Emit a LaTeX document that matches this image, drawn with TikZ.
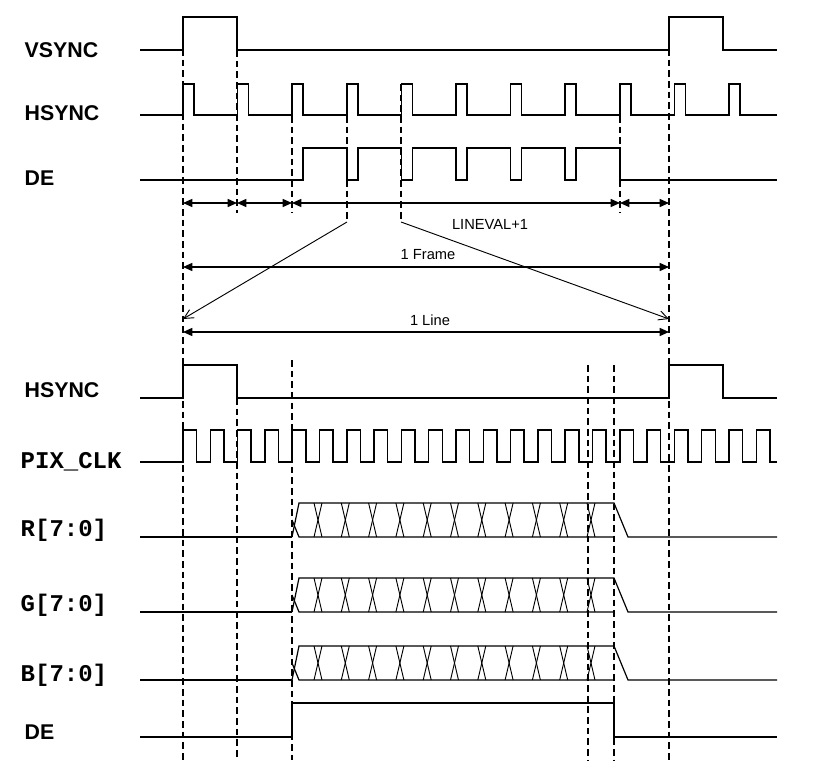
\documentclass[tikz,border=0pt]{standalone}
\usepackage{fontspec}
\setmainfont{Liberation Sans}
\setmonofont{Liberation Mono}
\usetikzlibrary{arrows.meta}
\begin{document}
\begin{tikzpicture}[x=0.75pt,y=-0.75pt,
  sig/.style={line width=1.1pt,line join=miter},
  dsh/.style={line width=0.9pt,dash pattern=on 5pt off 3pt},
  dim/.style={line width=1.1pt,{Triangle[length=7pt,width=6pt]}-{Triangle[length=7pt,width=6pt]}},
  zoomln/.style={line width=0.7pt,-{Straight Barb[length=7pt,width=7pt]}},
  lab/.style={anchor=west,font=\fontsize{16}{16}\selectfont\bfseries},
  mlab/.style={anchor=west,font=\fontsize{18}{18}\selectfont\ttfamily\bfseries},
  small/.style={font=\fontsize{11}{11}\selectfont}]
\useasboundingbox (0,0) rectangle (815,784);
\fill[white] (0,0) rectangle (815,784);
% labels
\node[lab] (l1) at (20,50) {VSYNC};
\node[lab] (l2) at (20,113) {HSYNC};
\node[lab] (l3) at (20,178) {DE};
\node[lab] (l4) at (20,390) {HSYNC};
\node[mlab] (l5) at (16,462) {PIX\_CLK};
\node[mlab] (l6) at (16,530) {R[7:0]};
\node[mlab] (l7) at (16,605) {G[7:0]};
\node[mlab] (l8) at (16,675) {B[7:0]};
\node[lab] (l9) at (20,732) {DE};
% VSYNC
\draw[sig] (140,50) -- (183,50) -- (183,17) -- (237,17) -- (237,50) -- (669,50) -- (669,17) -- (723,17) -- (723,50) -- (777,50);
% HSYNC top
\draw[sig] (140,115)
  \foreach \k in {0,...,10}{ -- ({183+54.6*\k},115) -- ({183+54.6*\k},84) -- ({194+54.6*\k},84) -- ({194+54.6*\k},115)} -- (777,115);
% DE top
\draw[sig] (140,180) -- (303,180) -- (303,148)
  \foreach \k in {3,...,7}{ -- ({183+54.6*\k},148) -- ({183+54.6*\k},180) -- ({194+54.6*\k},180) -- ({194+54.6*\k},148)}
  -- (620,148) -- (620,180) -- (777,180);
% dashed lines top
\draw[dsh] (183,17) -- (183,760);
\draw[dsh] (669,17) -- (669,760);
\draw[dsh] (237,50) -- (237,213);
\draw[dsh] (292,84) -- (292,213);
\draw[dsh] (347,84) -- (347,222);
\draw[dsh] (401,84) -- (401,222);
\draw[dsh] (620,84) -- (620,213);
\coordinate (a0) at (183,203); \coordinate (a1) at (237,203); \coordinate (a2) at (292,203);
\coordinate (a3) at (620,203); \coordinate (a4) at (669,203);
\draw[dim] (a0) -- (a1); \draw[dim] (a1) -- (a2); \draw[dim] (a2) -- (a3); \draw[dim] (a3) -- (a4);
\node[small] (lv) at (490,224) {LINEVAL+1};
\coordinate (f0) at (183,267); \coordinate (f1) at (669,267);
\draw[dim] (f0) -- (f1);
\node[small] (fr) at (428,255) {1 Frame};
\coordinate (z0) at (347,222); \coordinate (z1) at (401,222);
\coordinate (t0) at (183,319); \coordinate (t1) at (669,319);
\draw[zoomln] (z0) -- (t0);
\draw[zoomln] (z1) -- (t1);
\coordinate (g0) at (183,332); \coordinate (g1) at (669,332);
\draw[dim] (g0) -- (g1);
\node[small] (ln) at (430,320) {1 Line};
% HSYNC bottom
\draw[sig] (140,398) -- (183,398) -- (183,365) -- (237,365) -- (237,398) -- (669,398) -- (669,365) -- (723,365) -- (723,398) -- (777,398);
% PIX_CLK
\draw[sig] (140,462) \foreach \k in {0,...,21}{ -- ({183+27.3*\k},462) -- ({183+27.3*\k},430) -- ({196.6+27.3*\k},430) -- ({196.6+27.3*\k},462)} -- (777,462);
% dashed bottom
\draw[dsh] (237,398) -- (237,760);
\draw[dsh] (292,360) -- (292,760);
\draw[dsh] (588,365) -- (588,760);
\draw[dsh] (614,365) -- (614,760);
% buses
\foreach \yl/\yh in {537/503, 612/578, 680/646}{
  \draw[sig] (140,\yl) -- (292,\yl);
  \draw[line width=0.9pt] (292,\yl) -- (299,\yh) -- (614,\yh) -- (628,\yl) -- (777,\yl);
  \draw[line width=0.9pt] (292,{(\yl+\yh)/2}) -- (299,\yl) -- (614,\yl);
  \foreach \k in {0,...,10}{
    \draw[line width=0.7pt] ({314+27.3*\k},\yh) -- ({322+27.3*\k},\yl);
    \draw[line width=0.7pt] ({314+27.3*\k},\yl) -- ({322+27.3*\k},\yh);
  }
}
% DE bottom
\draw[sig] (140,737) -- (292,737) -- (292,703) -- (614,703) -- (614,737) -- (777,737);
\end{tikzpicture}
\end{document}
